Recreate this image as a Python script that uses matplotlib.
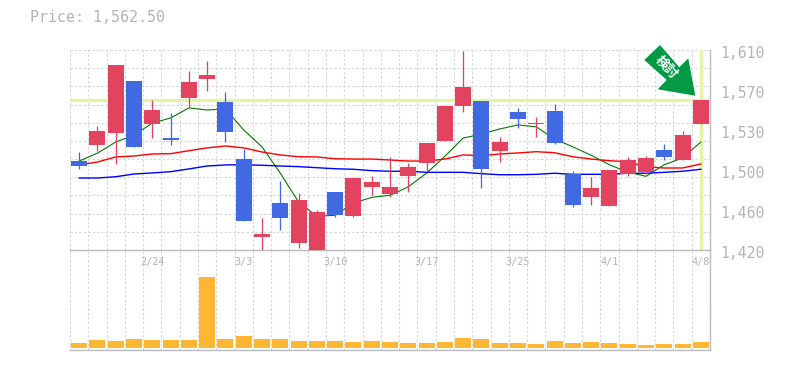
import matplotlib
matplotlib.use('Agg')
import matplotlib.pyplot as plt
from matplotlib.patches import Polygon
from matplotlib.transforms import IdentityTransform
import numpy as np

W, H = 785, 370

opens = [1504.5, 1520, 1531, 1580.5, 1540, 1526.4, 1564, 1582, 1560.6, 1506.5, 1432, 1464.6,
         1426.6, 1419, 1475, 1452, 1480, 1473, 1490.3, 1502.6, 1523.5, 1556.8, 1561.5, 1514,
         1551, 1540, 1552, 1492, 1470, 1462, 1492, 1494, 1515, 1505.5, 1539.7]
closes = [1500, 1533, 1596, 1518, 1553, 1524.5, 1579.6, 1586, 1532, 1448, 1435, 1450.4,
          1467.5, 1456, 1453, 1488, 1484.6, 1480, 1499, 1521.6, 1556.8, 1575, 1497, 1522.6,
          1544.5, 1541, 1521.6, 1462.8, 1479, 1496, 1505.5, 1507.4, 1508, 1529, 1562.5]
highs = [1513, 1538, 1596, 1580.5, 1562.5, 1550, 1590, 1599.5, 1570, 1516, 1450, 1485.5,
         1474, 1458, 1475, 1488, 1490, 1508, 1502.6, 1521.6, 1556.8, 1609, 1561.5, 1527,
         1555, 1546, 1558.7, 1495, 1489, 1496, 1508, 1509, 1520.7, 1533, 1562.5]
lows = [1497, 1514, 1502, 1518, 1526, 1520, 1556, 1571, 1522.6, 1448, 1419, 1439,
        1422, 1419, 1451, 1451, 1472, 1470, 1475, 1495, 1523.5, 1551, 1479, 1503.6,
        1536, 1527, 1520.7, 1461, 1462.8, 1462, 1490, 1492, 1505.5, 1505.5, 1539.7]
is_down = [1, 0, 0, 1, 0, 1, 0, 0, 1, 1, 0, 1, 0, 0, 1, 0, 0, 0, 0, 0, 0, 0, 1, 0,
           1, 0, 1, 1, 0, 0, 0, 0, 1, 0, 0]

ma_short = [1504.5, 1512, 1522.6, 1529, 1540.6, 1545.4, 1555, 1553, 1554, 1534, 1518, 1493,
            1465.6, 1452, 1453, 1464.6, 1470, 1472, 1480, 1493, 1509, 1526.4, 1530, 1535,
            1538.8, 1537, 1525.5, 1518, 1510, 1501, 1494, 1490, 1501, 1507.4, 1522.6]
ma_mid = [1500.8, 1503.6, 1508.4, 1509.3, 1511.2, 1511.5, 1514.3, 1517, 1518.8, 1517, 1513.1, 1510.3,
          1508.6, 1508.4, 1506.7, 1506.4, 1506.4, 1505.5, 1504.5, 1504.5, 1506.4, 1510.3, 1509.6, 1511.2,
          1512.2, 1513.4, 1512.4, 1508.6, 1506.4, 1504.8, 1503.9, 1499.1, 1497.9, 1497.9, 1501.7]
ma_long = [1488.4, 1488.4, 1489.6, 1492.2, 1493.2, 1494.4, 1497, 1499.8, 1500.8, 1501, 1500.5, 1499.8,
           1499.2, 1498.2, 1497.2, 1496.7, 1495.4, 1494.8, 1494.8, 1493.8, 1493.8, 1493.8, 1492.5, 1491.5,
           1491.5, 1491.9, 1492.9, 1491.9, 1491.9, 1491.9, 1492.9, 1492.9, 1493.8, 1494.8, 1496.7]
volumes = [5, 8, 7, 9, 8, 8, 8, 71, 9, 12, 9, 9, 7, 7, 7, 6, 7, 6,
           5, 5, 6, 10, 9, 5, 5, 4, 7, 5, 6, 5, 4, 3, 4, 4, 6]

price_ticks = [1420, 1458, 1496, 1534, 1572, 1610]
price_labels = ['1,420', '1,460', '1,500', '1,530', '1,570', '1,610']
date_pos = [4, 9, 14, 19, 24, 29, 34]
date_labels = ['2/24', '3/3', '3/10', '3/17', '3/25', '4/1', '4/8']
last_price = 1562.5

RED = '#E2445F'
BLUE = '#4169E1'
ORANGE = '#FFB733'
LIME = '#E3F5A5'
GRID = '#D6D6D6'
FRAME = '#BBBBBB'
TEXT = '#B4B4B4'
px = 0.72  # one pixel in points at dpi 100

fig = plt.figure(figsize=(W / 100, H / 100), dpi=100)
vol = fig.add_axes([70 / W, (H - 350) / H, 640 / W, 100 / H])
ax = fig.add_axes([70 / W, (H - 250) / H, 640 / W, 200 / H])

x = np.arange(len(opens))
for a in (ax, vol):
    a.patch.set_alpha(0)
    a.set_xlim(-0.5, 34.5)
    a.set_xticks(np.arange(-0.5, 35, 1))
    a.tick_params(length=0, labelbottom=False, labelleft=False)
    a.grid(axis='x', color=GRID, lw=1.1 * px, linestyle=(0, (2.2, 1.8)), zorder=0)
    a.set_axisbelow(True)
    for s in ('left', 'top'):
        a.spines[s].set_visible(False)
    for s in ('right', 'bottom'):
        a.spines[s].set_color(FRAME)
        a.spines[s].set_linewidth(1.4 * px)

# price panel
ax.set_ylim(1420, 1610)
ax.set_yticks(np.linspace(1420, 1610, 12))
ax.grid(axis='y', color=GRID, lw=1.1 * px, linestyle=(0, (2.2, 1.8)), zorder=0)
ax.axhline(last_price, color=LIME, lw=3.3 * px, zorder=1)
ax.plot([x[-1], x[-1]], [1422, 1610], color=LIME, lw=3.3 * px, zorder=1)

ax.plot(x, ma_short, color='#007700', lw=1.1 * px, zorder=2)
ax.plot(x, ma_mid, color='#FF0000', lw=1.4 * px, zorder=2)
ax.plot(x, ma_long, color='#0000FF', lw=1.4 * px, zorder=2)

colors = [BLUE if d else RED for d in is_down]
bottoms = np.minimum(opens, closes)
heights = np.abs(np.array(closes) - np.array(opens))
ax.vlines(x, lows, highs, color=colors, lw=1.3 * px, zorder=3)
ax.bar(x, heights, 0.88, bottom=bottoms, color=colors, zorder=4)

for v, label in zip(price_ticks, price_labels):
    ax.annotate(label, xy=(1, v), xycoords=('axes fraction', 'data'), xytext=(7.5, -2.2),
                textcoords='offset points', ha='left', va='center',
                family='DejaVu Sans Mono', fontsize=10.6, color=TEXT)

# volume panel
vol.set_ylim(-2, 98)
vol.set_yticks([])
vol.bar(x, volumes, 0.88, color=ORANGE, zorder=3)
for p, label in zip(date_pos, date_labels):
    vol.annotate(label, xy=(p, 1), xycoords=('data', 'axes fraction'), xytext=(0, -8.5),
                 textcoords='offset points', ha='center', va='center',
                 family='DejaVu Sans Mono', fontsize=7.3, color=TEXT)

fig.text(30 / W, 1 - 18 / H, 'Price: 1,562.50', family='DejaVu Sans Mono', fontsize=10.8,
         color=TEXT, ha='left', va='center')

# green marker arrow, placed in pixel coordinates
arrow = [(660, 45), (644.3, 60), (666.7, 80), (657.7, 89.3), (695.3, 95.7), (688.3, 58.3), (679.3, 67.3)]
fig.add_artist(Polygon([(a, H - b) for a, b in arrow], closed=True, facecolor='#009944',
                       edgecolor='none', transform=IdentityTransform(), zorder=6))
fig.text(666 / W, 1 - 67.5 / H, '検討', family=['Noto Sans CJK JP', 'DejaVu Sans'], fontsize=9.5,
         fontweight='bold', color='white', rotation=-47, rotation_mode='anchor',
         ha='center', va='center', zorder=7)

fig.savefig('out.png', dpi=100)
